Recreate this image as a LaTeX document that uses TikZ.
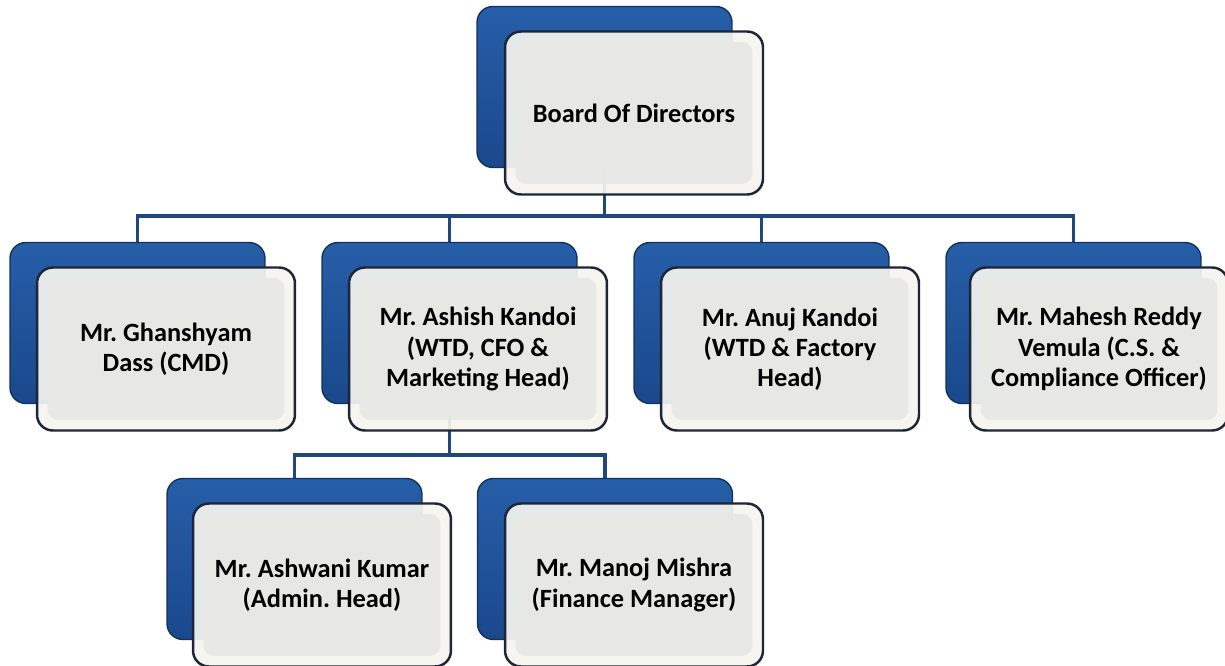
\documentclass[tikz,border=0pt]{standalone}
\usepackage{fontspec}
\setmainfont{Carlito}
\usepackage{tikz}
\usetikzlibrary{calc}
\usetikzlibrary{backgrounds}

\definecolor{backblue}{RGB}{26,72,140}
\definecolor{backtop}{RGB}{38,94,168}
\definecolor{backline}{RGB}{20,48,92}
\definecolor{frontrim}{RGB}{245,244,239}
\definecolor{frontin}{RGB}{232,232,228}
\definecolor{frontline}{RGB}{28,38,54}
\definecolor{busblue}{RGB}{31,73,125}

\begin{document}
\frenchspacing
\begin{tikzpicture}[x=0.02cm, y=-0.02cm,
    back/.style={draw=backline, line width=0.8pt, rounded corners=9pt,
        top color=backtop, bottom color=backblue,
        minimum width=5.1cm, minimum height=3.22cm, inner sep=0},
    front/.style={draw=frontline, line width=1.4pt, rounded corners=9pt,
        fill=frontrim, fill opacity=0.93, text opacity=1,
        minimum width=5.16cm, minimum height=3.26cm, inner sep=0, align=center,
        font=\fontsize{15}{17.2}\selectfont\bfseries,
        path picture={\fill[frontin, rounded corners=6pt]
            ($(path picture bounding box.north west)+(6pt,-6pt)$) rectangle
            ($(path picture bounding box.south east)+(-6pt,6pt)$);}},
    bus/.style={draw=busblue, line width=2.2pt}]
    \useasboundingbox (0,0) rectangle (1225,666);

    % back plates
    \node[back] (bodback) at (604.5,87) {};
    \node[back] (gdback) at (137.5,323) {};
    \node[back] (akback) at (449.5,323) {};
    \node[back] (ankback) at (761.5,323) {};
    \node[back] (mrback) at (1073.5,323) {};
    \node[back] (awkback) at (294.5,559) {};
    \node[back] (mmback) at (605,559) {};

    % connectors
    \coordinate (bus1) at (604.5,216);
    \coordinate (bus2) at (449.5,455);
    \begin{scope}[on background layer]
        \draw[bus] (bodback.south) -- (bus1);
        \draw[bus] (gdback.north) |- (bus1) -| (mrback.north);
        \draw[bus] (bus1) -| (akback.north);
        \draw[bus] (bus1) -| (ankback.north);
        \draw[bus] (akback.south) -- (bus2);
        \draw[bus] (awkback.north) |- (bus2) -| (mmback.north);
    \end{scope}

    % front cards
    \node[front] (bod) at (634,113) {Board Of Directors};
    \node[front] (gd) at (166,349) {Mr. Ghanshyam\\Dass (CMD)};
    \node[front] (ak) at (478,349) {Mr. Ashish Kandoi\\(WTD, CFO \&\\Marketing Head)};
    \node[front] (ank) at (790,349) {Mr. Anuj Kandoi\\(WTD \& Factory\\Head)};
    \node[front] (mr) at (1099,349) {Mr. Mahesh Reddy\\Vemula (C.S. \&\\Compliance Officer)};
    \node[front] (awk) at (322,585) {Mr. Ashwani Kumar\\(Admin. Head)};
    \node[front] (mm) at (634,585) {Mr. Manoj Mishra\\(Finance Manager)};
\end{tikzpicture}
\end{document}
